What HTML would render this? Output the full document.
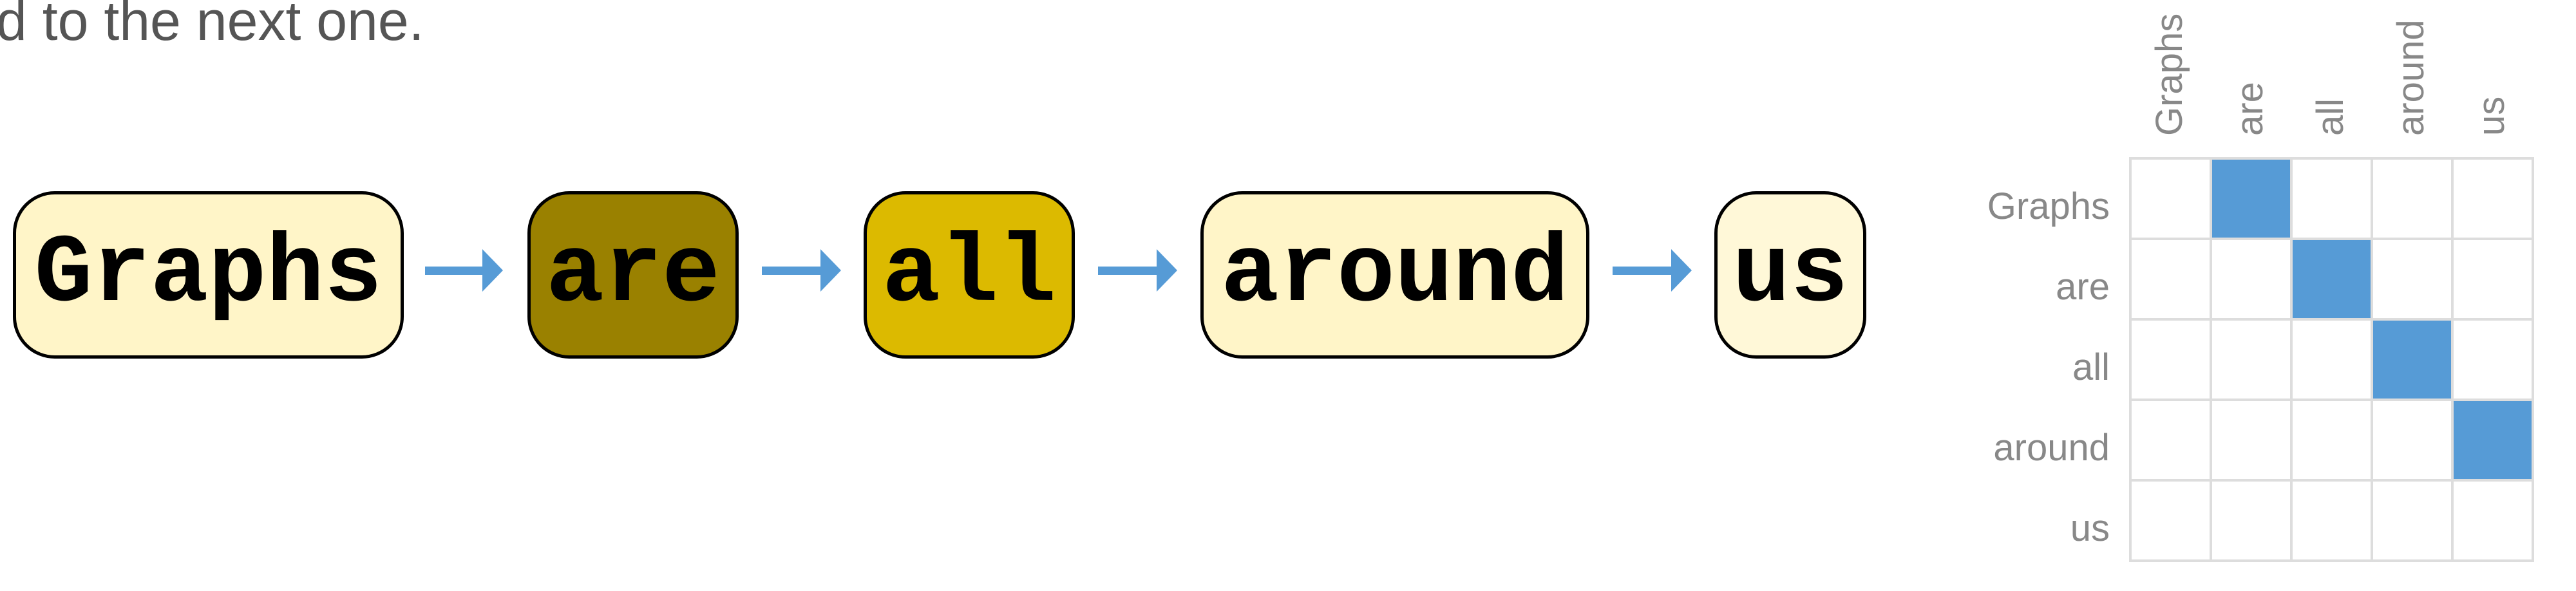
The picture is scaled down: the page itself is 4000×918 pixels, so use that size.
<!DOCTYPE html>
<html><head><meta charset="utf-8"><style>
html,body{margin:0;padding:0;background:#fff;width:4000px;height:918px;overflow:hidden;position:relative}
.t{position:absolute;left:-6px;top:-10px;font-family:"Liberation Sans",sans-serif;font-size:86px;line-height:1;color:#555;white-space:nowrap}
.b{position:absolute;box-sizing:border-box;top:297px;height:260px;border:5px solid #000;border-radius:65px;font-family:"Liberation Mono",monospace;font-weight:bold;font-size:150px;line-height:250px;text-align:center;color:#000}
</style></head><body>
<div class="t">d to the next one.</div>
<div class="b" style="left:20px;width:607px;background:#fff5c8">Graphs</div>
<div class="b" style="left:819px;width:328px;background:#9a8100">are</div>
<div class="b" style="left:1341px;width:328px;background:#dcba00">all</div>
<div class="b" style="left:1864px;width:604px;background:#fff5c8">around</div>
<div class="b" style="left:2662px;width:236px;background:#fff8d8">us</div>
<svg width="4000" height="918" style="position:absolute;left:0;top:0">
<g fill="#569bd6">
<rect x="660" y="414" width="90" height="13"/><polygon points="749,387 781,420 749,453"/>
<rect x="1183" y="414" width="92" height="13"/><polygon points="1274,387 1306,420 1274,453"/>
<rect x="1705" y="414" width="92" height="13"/><polygon points="1796,387 1828,420 1796,453"/>
<rect x="2504" y="414" width="92" height="13"/><polygon points="2595,387 2627,420 2595,453"/>
</g>
<g fill="#569bd6">
<rect x="3433" y="246" width="125" height="125"/>
<rect x="3558" y="371" width="125" height="125"/>
<rect x="3683" y="496" width="125" height="125"/>
<rect x="3808" y="621" width="125" height="125"/>
</g>
<g stroke="#ddd" stroke-width="4" fill="none">
<rect x="3308" y="246" width="625" height="625"/>
<line x1="3433" y1="246" x2="3433" y2="871"/><line x1="3558" y1="246" x2="3558" y2="871"/>
<line x1="3683" y1="246" x2="3683" y2="871"/><line x1="3808" y1="246" x2="3808" y2="871"/>
<line x1="3308" y1="371" x2="3933" y2="371"/><line x1="3308" y1="496" x2="3933" y2="496"/>
<line x1="3308" y1="621" x2="3933" y2="621"/><line x1="3308" y1="746" x2="3933" y2="746"/>
</g>
<g font-family="Liberation Sans,sans-serif" font-size="58" fill="#888" text-anchor="end">
<text x="3276" y="340">Graphs</text>
<text x="3276" y="465">are</text>
<text x="3276" y="590">all</text>
<text x="3276" y="715">around</text>
<text x="3276" y="840">us</text>
</g>
<g font-family="Liberation Sans,sans-serif" font-size="58" fill="#888" text-anchor="start">
<text transform="translate(3388,211) rotate(-90)">Graphs</text>
<text transform="translate(3513,211) rotate(-90)">are</text>
<text transform="translate(3638,211) rotate(-90)">all</text>
<text transform="translate(3763,211) rotate(-90)">around</text>
<text transform="translate(3888,211) rotate(-90)">us</text>
</g>
</svg>
</body></html>
